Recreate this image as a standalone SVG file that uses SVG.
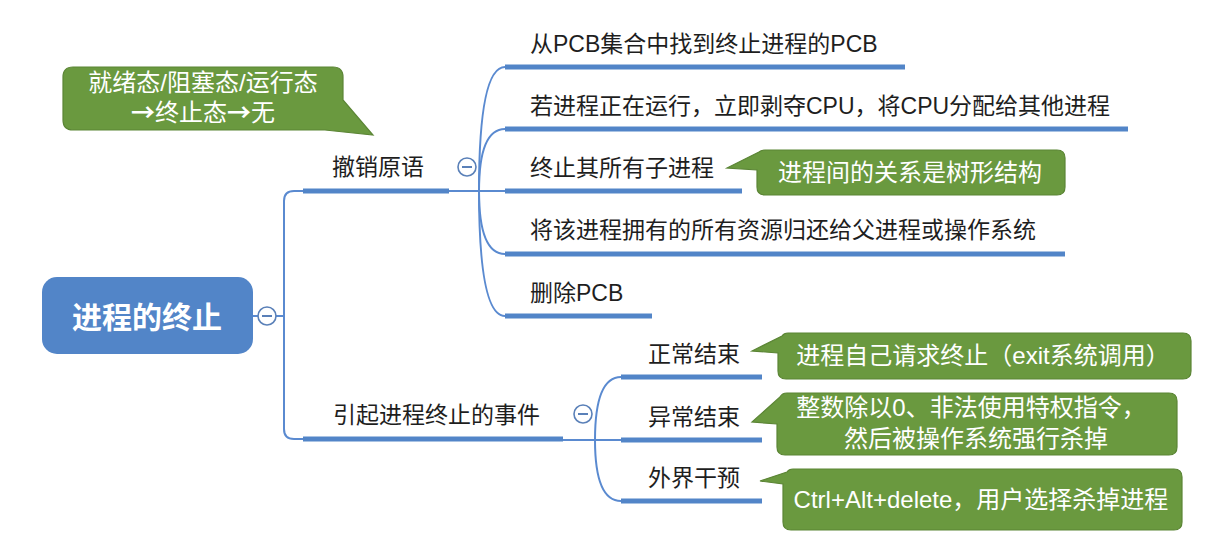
<svg xmlns="http://www.w3.org/2000/svg" width="1226" height="535" viewBox="0 0 1226 535">
<style>
.t{font-family:"Liberation Sans","Noto Sans CJK SC",sans-serif;font-size:23px;fill:#1e1e1e}
.ct{font-family:"Liberation Sans","Noto Sans CJK SC",sans-serif;font-size:24px;fill:#ffffff;text-anchor:middle}
.ar{font-family:"Noto Sans CJK SC","DejaVu Sans",sans-serif;font-weight:bold}
.ul{stroke:#5285c8;stroke-width:5;fill:none}
.ln{stroke:#5a8ad0;stroke-width:2;fill:none}
.co{fill:#6a993f;stroke:#5b8535;stroke-width:1.2}
.cc{fill:#ffffff;stroke:#5a80b8;stroke-width:1.6}
.cm{stroke:#5a80b8;stroke-width:2}
</style>
<rect width="1226" height="535" fill="#ffffff"/>
<g id="connectors">
<path class="ln" d="M252,316 H284"/>
<path class="ln" d="M303,191 H294 Q284,191 284,201 V429 Q284,439 294,439 H303"/>
<path class="ln" d="M449,191 H505"/>
<path class="ln" d="M479,191 Q479,67 505,67"/>
<path class="ln" d="M479,191 Q479,129 505,129"/>
<path class="ln" d="M479,191 Q479,254 505,254"/>
<path class="ln" d="M479,191 Q479,316 505,316"/>
<path class="ln" d="M563,440 H622"/>
<path class="ln" d="M595,440 Q595,377 621,377"/>
<path class="ln" d="M595,440 Q595,501 621,501"/>
</g>
<g id="root">
<rect x="42" y="277" width="211" height="77" rx="15" fill="#5285c8"/>
<text x="147" y="328" font-family="Liberation Sans,'Noto Sans CJK SC',sans-serif" font-size="30" font-weight="bold" fill="#ffffff" text-anchor="middle">进程的终止</text>
<circle class="cc" cx="267" cy="316" r="9"/>
<path class="cm" d="M262,316 H272"/>
</g>
<g id="revoke">
<text class="t" x="332" y="175">撤销原语</text>
<path class="ul" d="M303,191 H449"/>
<circle class="cc" cx="467" cy="167" r="9"/>
<path class="cm" d="M462,167 H472"/>
</g>
<g id="c1">
<text class="t" x="530" y="52">从PCB集合中找到终止进程的PCB</text>
<path class="ul" d="M505,67 H905"/>
</g>
<g id="c2">
<text class="t" x="530" y="114">若进程正在运行，立即剥夺CPU，将CPU分配给其他进程</text>
<path class="ul" d="M505,129 H1128"/>
</g>
<g id="c3">
<text class="t" x="530" y="176">终止其所有子进程</text>
<path class="ul" d="M505,191 H742"/>
</g>
<g id="c4">
<text class="t" x="530" y="238">将该进程拥有的所有资源归还给父进程或操作系统</text>
<path class="ul" d="M505,254 H1065"/>
</g>
<g id="c5">
<text class="t" x="530" y="301">删除PCB</text>
<path class="ul" d="M505,316 H652"/>
</g>
<g id="events">
<text class="t" x="333" y="423">引起进程终止的事件</text>
<path class="ul" d="M303,439 H563"/>
<circle class="cc" cx="583" cy="414" r="9"/>
<path class="cm" d="M578,414 H588"/>
</g>
<g id="e1">
<text class="t" x="648" y="362">正常结束</text>
<path class="ul" d="M621,377 H762"/>
</g>
<g id="e2">
<text class="t" x="648" y="425">异常结束</text>
<path class="ul" d="M621,440 H762"/>
</g>
<g id="e3">
<text class="t" x="648" y="486">外界干预</text>
<path class="ul" d="M621,501 H762"/>
</g>
<g id="noteA">
<path class="co" d="M73,67 H333 Q343,67 343,77 V100 L373,135 L325,130 H73 Q63,130 63,120 V77 Q63,67 73,67 Z"/>
<text class="ct" x="203" y="91">就绪态/阻塞态/运行态</text>
<text class="ct" x="203" y="121"><tspan class="ar">→</tspan>终止态<tspan class="ar">→</tspan>无</text>
</g>
<g id="noteB">
<path class="co" d="M765,150 H1057 Q1065,150 1065,158 V187 Q1065,195 1057,195 H765 Q757,195 757,187 V170 L727,168 L759,152 Q761,150 765,150 Z"/>
<text class="ct" x="910" y="181">进程间的关系是树形结构</text>
</g>
<g id="noteC">
<path class="co" d="M788,333 H1183 Q1191,333 1191,341 V371 Q1191,379 1183,379 H786 Q778,379 778,371 V353 L752,351 L782,336 Q784,333 788,333 Z"/>
<text class="ct" x="983" y="364">进程自己请求终止（exit系统调用）</text>
</g>
<g id="noteD">
<path class="co" d="M787,393 H1169 Q1177,393 1177,401 V447 Q1177,455 1169,455 H785 Q777,455 777,447 V424 L752,422 L780,397 Q782,393 787,393 Z"/>
<text class="ct" x="971" y="416">整数除以0、非法使用特权指令，</text>
<text class="ct" x="976" y="447">然后被操作系统强行杀掉</text>
</g>
<g id="noteE">
<path class="co" d="M793,469 H1174 Q1182,469 1182,477 V522 Q1182,530 1174,530 H791 Q783,530 783,522 V484 L760,481 L787,472 Q789,469 793,469 Z"/>
<text class="ct" x="981" y="508">Ctrl+Alt+delete，用户选择杀掉进程</text>
</g>
</svg>
